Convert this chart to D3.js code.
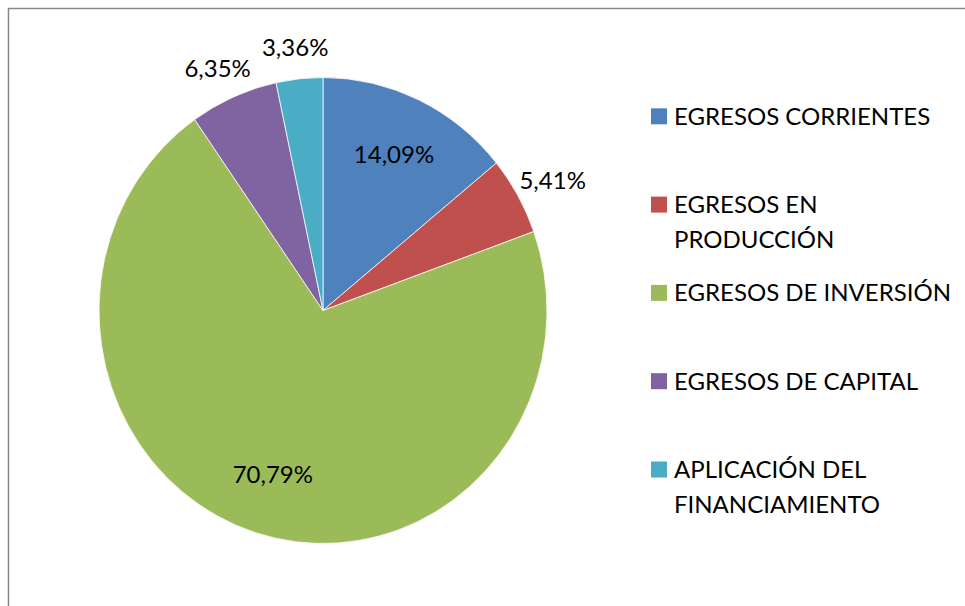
<!DOCTYPE html>
<html>
<head>
<meta charset="utf-8">
<script src="https://cdn.jsdelivr.net/npm/d3@7"></script>
<style>
  body { margin: 0; background: #fff; }
  svg { display: block; }
  text { font-family: Lato, "Open Sans", sans-serif; fill: #000; }
</style>
</head>
<body>
<div id="chart"></div>
<script>
// chart data
const categories = [
  'EGRESOS CORRIENTES',
  'EGRESOS EN PRODUCCIÓN',
  'EGRESOS DE INVERSIÓN',
  'EGRESOS DE CAPITAL',
  'APLICACIÓN DEL FINANCIAMIENTO'
];
const values = [14.09, 5.41, 70.79, 6.35, 3.36];
const colors = ['#4F81BD', '#C0504D', '#9BBB59', '#8064A2', '#4BACC6'];

const width = 965;
const height = 606;

const svg = d3.select('#chart').append('svg')
  .attr('width', width)
  .attr('height', height);

// chart area frame (runs off the right / bottom edge)
svg.append('rect')
  .attr('x', 8.5)
  .attr('y', 8.5)
  .attr('width', 1000)
  .attr('height', 700)
  .attr('fill', 'white')
  .attr('stroke', '#868686')
  .attr('stroke-width', 1.5);

const cx = 323, cy = 310.5;
const rx = 224, ry = 233;   // pie is a little stretched vertically
const sy = ry / rx;

const pie = d3.pie().sort(null).value(d => d);
const arcs = pie(values);

const arc = d3.arc().innerRadius(0).outerRadius(rx);

const g = svg.append('g')
  .attr('transform', `translate(${cx},${cy}) scale(1,${sy})`);

g.selectAll('path')
  .data(arcs)
  .enter()
  .append('path')
  .attr('d', arc)
  .attr('fill', (d, i) => colors[i])
  .attr('stroke', 'white')
  .attr('stroke-width', 0.75);

// data labels: big slices inside, small ones outside
const fmt = v => d3.format('.2f')(v).replace('.', ',') + '%';
const labelPos = d => {
  const a = (d.startAngle + d.endAngle) / 2;
  const inside = (d.endAngle - d.startAngle) > 0.6;
  const rr = inside ? rx * 0.74 : rx + 40;
  return [cx + Math.sin(a) * rr, cy - Math.cos(a) * rr * (inside ? sy : 1)];
};

svg.selectAll('text.lbl')
  .data(arcs)
  .enter()
  .append('text')
  .attr('class', 'lbl')
  .attr('x', d => labelPos(d)[0])
  .attr('y', d => labelPos(d)[1] + 8.5)
  .attr('text-anchor', 'middle')
  .style('font-size', '24px')
  .text(d => fmt(d.data));

// legend
const legX = 651, legY = 116.3, legStep = 88.3, lineH = 35, maxW = 290;

const leg = svg.selectAll('g.leg')
  .data(categories)
  .enter()
  .append('g')
  .attr('class', 'leg')
  .attr('transform', (d, i) => `translate(${legX},${legY + i * legStep})`);

leg.append('rect')
  .attr('x', 0)
  .attr('y', -8)
  .attr('width', 16)
  .attr('height', 16)
  .attr('fill', (d, i) => colors[i]);

leg.each(function(d) {
  const t = d3.select(this).append('text')
    .attr('x', 23)
    .attr('y', 8.5)
    .style('font-size', '24px');
  const words = d.split(' ');
  let line = [];
  let tspan = t.append('tspan').attr('x', 23).attr('dy', 0);
  words.forEach(w => {
    line.push(w);
    tspan.text(line.join(' '));
    if (tspan.node().getComputedTextLength() > maxW && line.length > 1) {
      line.pop();
      tspan.text(line.join(' '));
      line = [w];
      tspan = t.append('tspan').attr('x', 23).attr('dy', lineH).text(w);
    }
  });
});
</script>
</body>
</html>
